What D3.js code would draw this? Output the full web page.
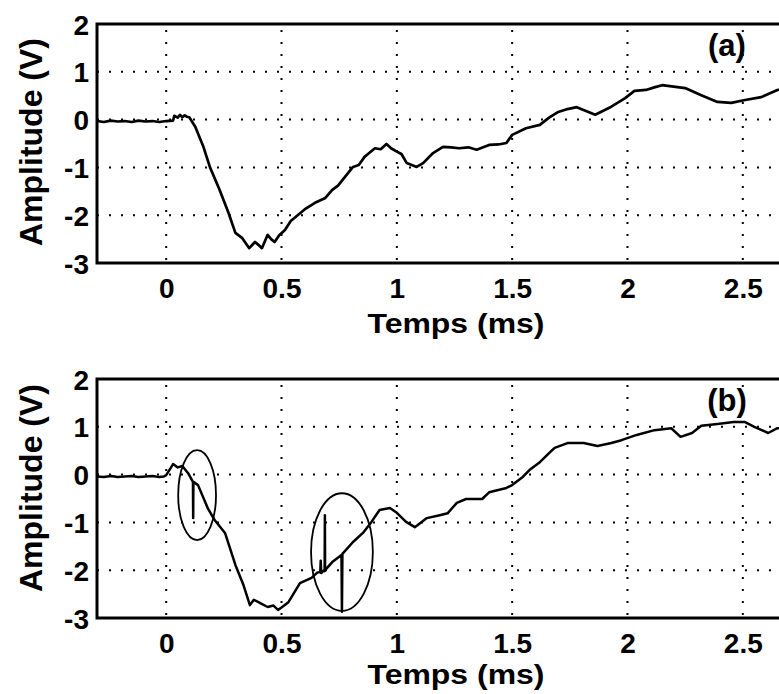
<!DOCTYPE html>
<html>
<head>
<meta charset="utf-8">
<script src="https://cdn.jsdelivr.net/npm/d3@7"></script>
<style>
  html, body { margin: 0; padding: 0; background: #fff; }
  svg { display: block; }
</style>
</head>
<body>
<script>
// ---------- DATA ----------
const xTicks = [0, 0.5, 1, 1.5, 2, 2.5];
const xTickLabels = ["0", "0.5", "1", "1.5", "2", "2.5"];
const yTicks = [2, 1, 0, -1, -2, -3];
const yTickLabels = ["2", "1", "0", "-1", "-2", "-3"];
const panelLabels = ["(a)", "(b)"];
const xTitle = "Temps (ms)";
const yTitle = "Amplitude (V)";

// trace (a)
const timeA = [-0.30,-0.27,-0.24,-0.21,-0.18,-0.15,-0.12,-0.09,-0.06,-0.03,0.00,0.03,0.035,0.05,0.06,0.07,0.08,0.09,0.10,0.126,0.16,0.19,0.23,0.27,0.30,0.33,0.36,0.385,0.40,0.415,0.44,0.455,0.47,0.49,0.515,0.54,0.57,0.60,0.645,0.69,0.72,0.745,0.77,0.81,0.835,0.86,0.88,0.905,0.93,0.955,0.975,1.0,1.02,1.043,1.086,1.114,1.157,1.2,1.235,1.27,1.31,1.346,1.40,1.44,1.475,1.50,1.56,1.62,1.66,1.70,1.74,1.78,1.82,1.86,1.93,1.99,2.03,2.08,2.12,2.15,2.2,2.25,2.32,2.39,2.45,2.51,2.58,2.65,2.75];
const voltA = [-0.03,-0.05,-0.02,-0.04,-0.03,-0.05,-0.02,-0.04,-0.03,-0.05,-0.03,-0.02,0.08,0.04,0.10,0.05,0.09,0.06,0.05,-0.15,-0.55,-1.00,-1.45,-1.95,-2.37,-2.48,-2.69,-2.56,-2.62,-2.69,-2.41,-2.50,-2.56,-2.42,-2.31,-2.12,-2.00,-1.88,-1.74,-1.64,-1.47,-1.38,-1.23,-0.99,-0.95,-0.78,-0.70,-0.60,-0.62,-0.51,-0.60,-0.67,-0.72,-0.91,-0.99,-0.91,-0.70,-0.57,-0.58,-0.60,-0.58,-0.63,-0.53,-0.52,-0.49,-0.32,-0.18,-0.11,0.04,0.16,0.22,0.26,0.18,0.10,0.27,0.45,0.60,0.62,0.68,0.72,0.69,0.66,0.51,0.37,0.35,0.41,0.47,0.62,0.70];

// trace (b)
const timeB = [-0.30,-0.27,-0.24,-0.21,-0.18,-0.15,-0.12,-0.09,-0.06,-0.03,-0.01,0.00,0.03,0.05,0.07,0.095,0.116,0.117,0.118,0.138,0.18,0.21,0.255,0.30,0.335,0.363,0.38,0.40,0.42,0.44,0.465,0.485,0.50,0.53,0.58,0.63,0.655,0.668,0.670,0.672,0.685,0.687,0.688,0.689,0.72,0.760,0.762,0.764,0.81,0.853,0.89,0.925,0.97,1.0,1.04,1.078,1.13,1.186,1.22,1.26,1.30,1.37,1.40,1.475,1.50,1.546,1.576,1.62,1.66,1.684,1.74,1.81,1.87,1.93,1.974,2.04,2.117,2.19,2.23,2.28,2.32,2.39,2.46,2.51,2.55,2.61,2.65,2.75];
const voltB = [-0.04,-0.05,-0.03,-0.05,-0.04,-0.03,-0.05,-0.04,-0.03,-0.05,-0.04,-0.01,0.22,0.15,0.18,0.03,-0.15,-0.91,-0.15,-0.22,-0.70,-0.95,-1.22,-1.89,-2.31,-2.73,-2.62,-2.67,-2.72,-2.77,-2.74,-2.83,-2.78,-2.67,-2.27,-2.16,-2.05,-2.04,-1.80,-2.06,-2.00,-2.02,-0.85,-2.00,-1.83,-1.68,-2.87,-1.66,-1.41,-1.22,-0.99,-0.74,-0.70,-0.80,-0.99,-1.10,-0.91,-0.85,-0.81,-0.59,-0.51,-0.51,-0.37,-0.28,-0.22,-0.05,0.10,0.26,0.45,0.56,0.66,0.66,0.60,0.66,0.72,0.83,0.93,0.97,0.79,0.87,1.02,1.06,1.10,1.10,1.00,0.87,0.97,1.00];

// annotation ellipses on trace (b): centre time, centre volt, half-width (ms), half-height (V)
const ellipseT = [0.134, 0.762];
const ellipseV = [-0.43, -1.62];
const ellipseRT = [0.082, 0.134];
const ellipseRV = [0.94, 1.23];

// ---------- LAYOUT ----------
const W = 779, H = 694;
const svg = d3.select("body").append("svg").attr("width", W).attr("height", H);
const FONT = "'Liberation Sans', Arial, Helvetica, sans-serif";

const x = d3.scaleLinear().domain([-0.3, 2.8]).range([97, 812]);
const panels = [
  { top: 24, bottom: 263, t: timeA, v: voltA, label: panelLabels[0], lw: 2.7 },
  { top: 379, bottom: 618, t: timeB, v: voltB, label: panelLabels[1], lw: 2.5 }
];

panels.forEach((p, pi) => {
  const y = d3.scaleLinear().domain([-3, 2]).range([p.bottom, p.top]);
  const g = svg.append("g");

  // dotted grid
  const grid = g.append("g").attr("stroke", "#000").attr("stroke-width", 2)
    .attr("stroke-dasharray", "2 10").attr("fill", "none");
  yTicks.filter(d => d > -3 && d < 2).forEach(d => {
    grid.append("line").attr("x1", x.range()[0]).attr("x2", x.range()[1])
      .attr("y1", y(d)).attr("y2", y(d));
  });
  xTicks.forEach(d => {
    grid.append("line").attr("x1", x(d)).attr("x2", x(d))
      .attr("y1", p.top + 6).attr("y2", p.bottom);
  });

  // axes via d3
  const xAxis = d3.axisBottom(x).tickValues(xTicks)
    .tickFormat((d, i) => xTickLabels[i]).tickSize(0).tickPadding(0);
  const gx = g.append("g").attr("transform", `translate(0,${p.bottom})`).call(xAxis);
  gx.select(".domain").remove();
  gx.selectAll("text").attr("font-family", FONT).attr("font-weight", "bold")
    .attr("font-size", 28).attr("fill", "#000").attr("dy", null).attr("y", 35);

  const yAxis = d3.axisLeft(y).tickValues(yTicks)
    .tickFormat((d, i) => yTickLabels[i]).tickSize(0).tickPadding(0);
  const gy = g.append("g").attr("transform", `translate(89,0)`).call(yAxis);
  gy.select(".domain").remove();
  gy.selectAll("text").attr("font-family", FONT).attr("font-weight", "bold")
    .attr("font-size", 28).attr("fill", "#000").attr("x", 0).attr("dy", "0.36em");

  // frame
  g.append("rect").attr("x", x.range()[0]).attr("y", p.top)
    .attr("width", x.range()[1] - x.range()[0]).attr("height", p.bottom - p.top)
    .attr("fill", "none").attr("stroke", "#000").attr("stroke-width", 3);

  // trace
  const pts = p.t.map((t, i) => [t, p.v[i]]);
  g.append("path").datum(pts)
    .attr("d", d3.line().x(d => x(d[0])).y(d => y(d[1])))
    .attr("fill", "none").attr("stroke", "#000").attr("stroke-width", p.lw)
    .attr("stroke-linejoin", "round");

  // ellipses for panel b
  if (pi === 1) {
    ellipseT.forEach((et, i) => {
      g.append("ellipse")
        .attr("cx", x(et)).attr("cy", y(ellipseV[i]))
        .attr("rx", x(et + ellipseRT[i]) - x(et))
        .attr("ry", y(ellipseV[i] - ellipseRV[i]) - y(ellipseV[i]))
        .attr("fill", "none").attr("stroke", "#000").attr("stroke-width", 1.8);
    });
  }

  // panel label
  g.append("text").attr("x", 727).attr("y", p.top + 32).attr("text-anchor", "middle")
    .attr("font-family", FONT).attr("font-weight", "bold").attr("font-size", 31)
    .text(p.label);

  // x title
  g.append("text").attr("x", 456).attr("y", p.bottom + (pi === 0 ? 70 : 66))
    .attr("text-anchor", "middle").attr("font-family", FONT).attr("font-weight", "bold")
    .attr("font-size", 28).attr("textLength", 177).attr("lengthAdjust", "spacingAndGlyphs")
    .text(xTitle);

  // y title
  const cy = pi === 0 ? 142 : 488;
  g.append("text").attr("transform", `translate(42,${cy}) rotate(-90)`)
    .attr("text-anchor", "middle").attr("font-family", FONT).attr("font-weight", "bold")
    .attr("font-size", 32)
    .text(yTitle);
});
</script>
</body>
</html>
